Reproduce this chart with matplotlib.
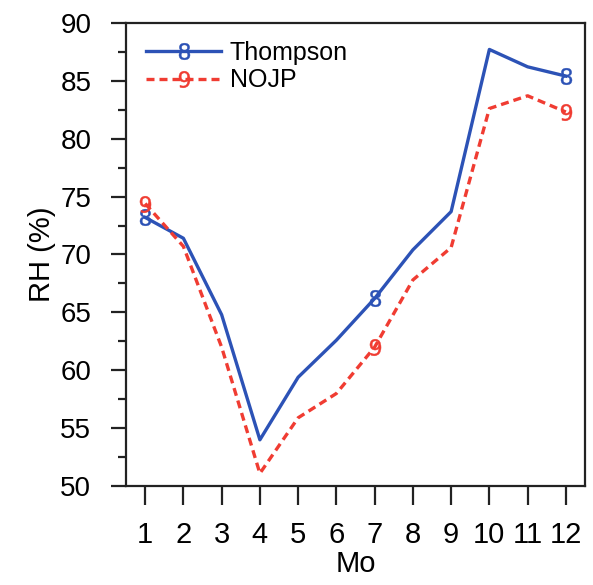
import matplotlib
matplotlib.use("Agg")
import matplotlib.pyplot as plt
from matplotlib.ticker import MultipleLocator

plt.rcParams['font.family'] = ['Liberation Sans', 'DejaVu Sans']

## datos
months = [1, 2, 3, 4, 5, 6, 7, 8, 9, 10, 11, 12]
rh_thompson = [73.2, 71.4, 64.8, 54.0, 59.4, 62.6, 66.2, 70.4, 73.7, 87.7, 86.2, 85.4]
rh_nojp = [74.4, 70.7, 62.0, 51.1, 55.9, 58.0, 62.0, 67.8, 70.6, 82.6, 83.7, 82.3]
mark_idx = [0, 6, 11]

blue = '#2c52b6'
red = '#f03c32'

fig = plt.figure(figsize=(5.93, 5.85), dpi=100)
ax = fig.add_axes([0.2125, 0.169, 0.774, 0.792])

ax.plot(months, rh_thompson, color=blue, lw=2.4, marker='$8$', markersize=12,
        markevery=mark_idx, markeredgewidth=0.3, label='Thompson')
ax.plot(months, rh_nojp, color=red, lw=2.4, ls=(0, (2.4, 1.5)), marker='$9$',
        markersize=12, markevery=mark_idx, markeredgewidth=0.3, label='NOJP')

ax.set_xlim(0.5, 12.5)
ax.set_ylim(50, 90)
ax.set_xticks(months)
ax.yaxis.set_major_locator(MultipleLocator(5))
ax.yaxis.set_minor_locator(MultipleLocator(2.5))

for s in ax.spines.values():
    s.set_linewidth(1.6)
    s.set_color('#222222')

ax.tick_params(axis='y', which='major', direction='out', length=11, width=1.6,
               labelsize=20, pad=14, color='#222222')
ax.tick_params(axis='y', which='minor', direction='out', length=6, width=1.6,
               color='#222222')
ax.tick_params(axis='x', which='major', direction='out', length=14, width=1.6,
               labelsize=21, pad=11, color='#222222')

ax.set_xlabel('Mo', fontsize=21, labelpad=1)
ax.set_ylabel('RH (%)', fontsize=21, labelpad=3)

leg = ax.legend(loc='upper left', bbox_to_anchor=(-0.005, 1.01), frameon=False,
                fontsize=18, handlelength=3.0, numpoints=1, handletextpad=0.35,
                labelspacing=0.15)

fig.savefig('out.png', dpi=100)
